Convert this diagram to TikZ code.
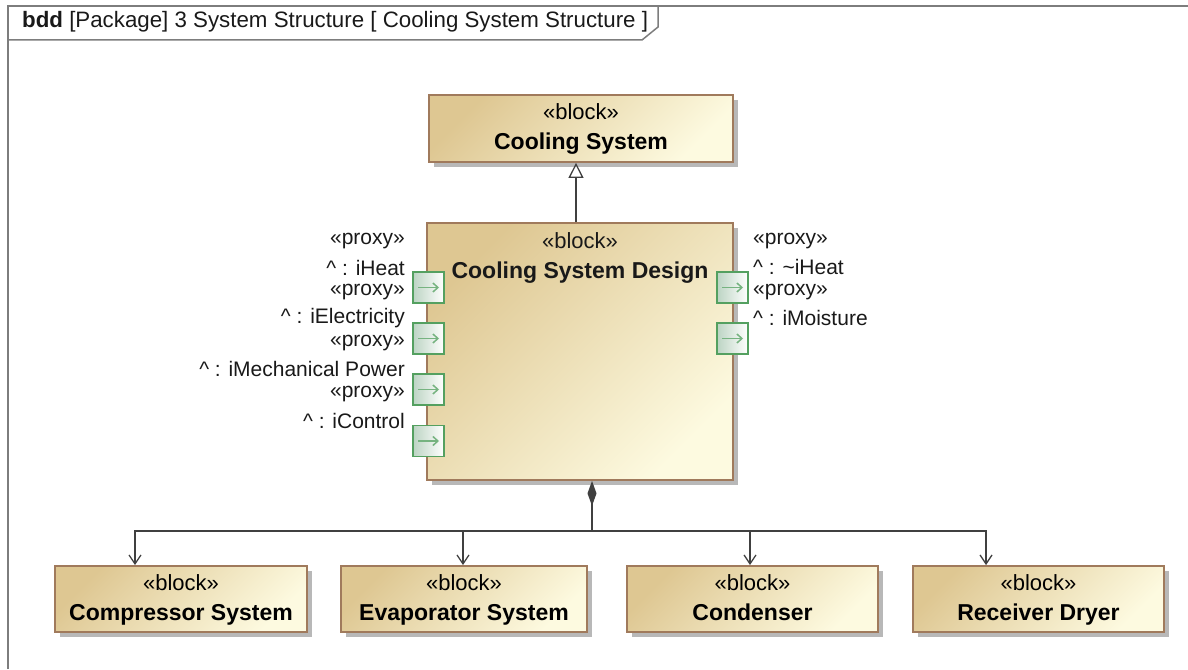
\documentclass[tikz,border=0pt]{standalone}
\usepackage{fontspec}
\setmainfont{Liberation Sans}
\usetikzlibrary{arrows.meta, positioning, shadows}

\definecolor{blocktan}{RGB}{222,199,146}
\definecolor{blockcream}{RGB}{253,250,224}
\definecolor{blockedge}{RGB}{160,122,92}
\definecolor{portedge}{RGB}{84,160,96}
\definecolor{portfill}{RGB}{188,212,195}
\definecolor{linegray}{RGB}{64,64,64}
\definecolor{framegray}{RGB}{125,125,125}

\newcommand{\txt}{\fontsize{21}{30}\selectfont}
\newcommand{\bname}[1]{\textbf{\fontsize{23}{30}\selectfont #1\strut}}
\newcommand{\inh}{\textasciicircum{} : }

\tikzset{
  block/.style={draw=blockedge, line width=1.8pt, inner sep=0pt, align=center,
    font=\fontsize{22}{30}\selectfont,
    top color=blocktan, bottom color=blockcream, shading angle=45,
    drop shadow={shadow xshift=5pt, shadow yshift=-5pt, fill=black!28, opacity=1}},
  port/.style={draw=portedge, line width=1.6pt, minimum size=31pt, inner sep=0pt,
    left color=portfill, right color=white,
    path picture={\draw[portedge!80!white, line width=1.5pt, -{Straight Barb[length=5pt,width=9pt]}]
      ([xshift=5pt]path picture bounding box.west) -- ([xshift=-5pt]path picture bounding box.east);}},
  lbl/.style={font=\txt, inner sep=0pt, text=black!90},
  frame/.style={draw=framegray, line width=1.5pt},
  link/.style={draw=linegray, line width=1.3pt}
}

\begin{document}
\begin{tikzpicture}[x=1pt, y=-1pt]
  \useasboundingbox (0,0) rectangle (1188,669);
  % diagram frame and name tab
  \draw[frame] (8,669) -- (8,6) -- (1188,6);
  \draw[frame] (8,40) -- (642,40) -- (658,27) -- (658,6);
  \node[lbl, anchor=west, font=\fontsize{22.3}{26}\selectfont] (title) at (22,22)
    {\textbf{bdd} [Package] 3 System Structure [ Cooling System Structure ]};

  % blocks
  \node[block, minimum width=304pt, minimum height=67pt] (cooling) at (581,128.5)
    {\strut«block»\\\bname{Cooling System}};
  \node[block, minimum width=306pt, minimum height=257pt] (design) at (580,351.5) {};
  \node[lbl, align=center, font=\fontsize{22}{30}\selectfont] (designname) at (580,257)
    {\strut«block»\\\bname{Cooling System Design}};

  \node[block, minimum width=252pt, minimum height=66pt] (compressor) at (181,599)
    {\strut«block»\\\bname{Compressor System}};
  \node[block, minimum width=246pt, minimum height=66pt] (evaporator) at (464,599)
    {\strut«block»\\\bname{Evaporator System}};
  \node[block, minimum width=251pt, minimum height=66pt] (condenser) at (752.5,599)
    {\strut«block»\\\bname{Condenser}};
  \node[block, minimum width=251pt, minimum height=66pt] (receiver) at (1038.5,599)
    {\strut«block»\\\bname{Receiver Dryer}};

  % proxy ports
  \node[port] (pHeat) at (428.5,287.5) {};
  \node[port] (pElec) at (428.5,338.5) {};
  \node[port] (pMech) at (428.5,389.5) {};
  \node[port] (pCtrl) at (428.5,441) {};
  \node[port] (pHeatOut) at (732.5,287.5) {};
  \node[port] (pMoist) at (732.5,338.5) {};

  \node[lbl, anchor=east] (sHeat) at (405,241) {«proxy»};
  \node[lbl, anchor=east] (nHeat) at (405,268) {\inh iHeat};
  \node[lbl, anchor=east] (sElec) at (405,292) {«proxy»};
  \node[lbl, anchor=east] (nElec) at (405,318) {\inh iElectricity};
  \node[lbl, anchor=east] (sMech) at (405,343) {«proxy»};
  \node[lbl, anchor=east] (nMech) at (405,369) {\inh iMechanical Power};
  \node[lbl, anchor=east] (sCtrl) at (405,394) {«proxy»};
  \node[lbl, anchor=east] (nCtrl) at (405,421) {\inh iControl};

  \node[lbl, anchor=west] (sHeatOut) at (753,241) {«proxy»};
  \node[lbl, anchor=west] (nHeatOut) at (753,267) {\inh \textasciitilde iHeat};
  \node[lbl, anchor=west] (sMoist) at (753,292) {«proxy»};
  \node[lbl, anchor=west] (nMoist) at (753,318) {\inh iMoisture};

  % generalization
  \draw[link, -{Triangle[open, length=15pt, width=15pt, fill=white]}]
    ([xshift=-4pt]design.north) -- ([xshift=-5pt]cooling.south);

  % composition tree
  \coordinate (hub) at (592,531);
  \draw[link, -{Diamond[length=25pt, width=9pt]}] (hub) -- ([xshift=12pt]design.south);
  \draw[link, -{Straight Barb[length=9pt, width=12pt]}] (hub) -| ([xshift=-46pt]compressor.north);
  \draw[link, -{Straight Barb[length=9pt, width=12pt]}] (hub) -| ([xshift=-1pt]evaporator.north);
  \draw[link, -{Straight Barb[length=9pt, width=12pt]}] (hub) -| ([xshift=-2.5pt]condenser.north);
  \draw[link, -{Straight Barb[length=9pt, width=12pt]}] (hub) -| ([xshift=-52.5pt]receiver.north);
\end{tikzpicture}
\end{document}
